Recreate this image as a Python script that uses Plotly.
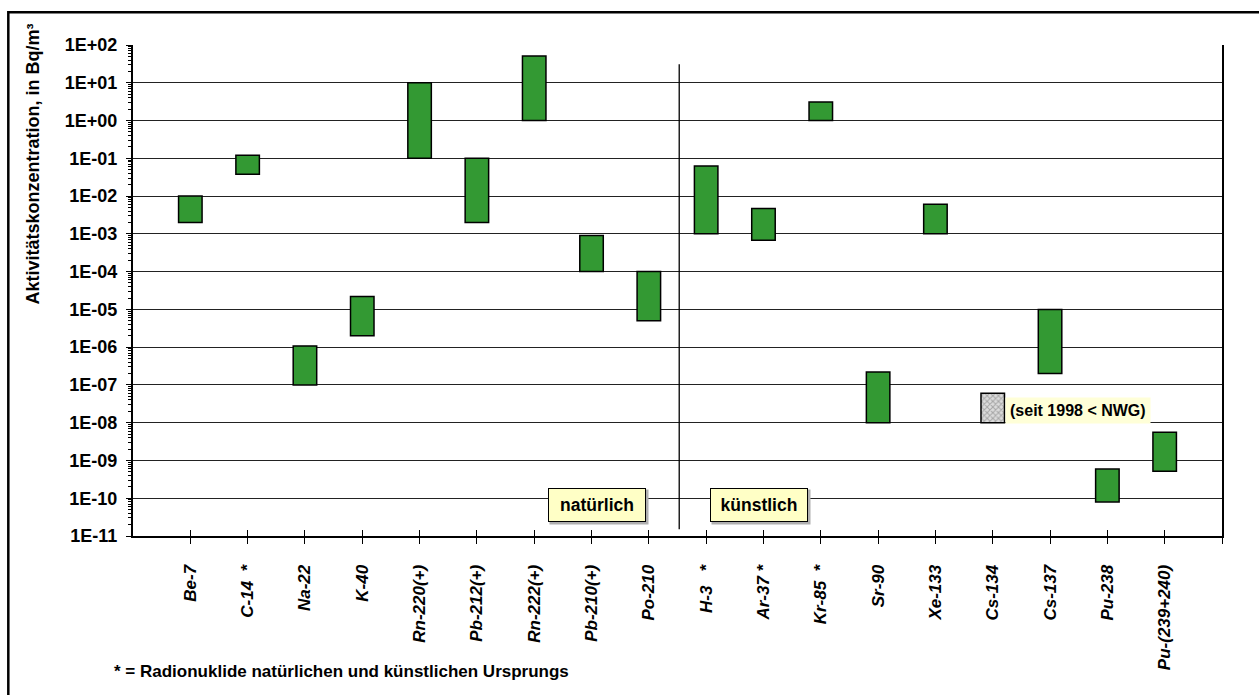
import plotly.graph_objects as go

# ---------------- data ----------------
nuclides = ["Be-7", "C-14\u00a0\u00a0*", "Na-22", "K-40", "Rn-220(+)", "Pb-212(+)", "Rn-222(+)",
            "Pb-210(+)", "Po-210", "H-3\u00a0\u00a0\u00a0*", "Ar-37\u00a0*", "Kr-85\u00a0\u00a0*",
            "Sr-90", "Xe-133", "Cs-134", "Cs-137", "Pu-238", "Pu-(239+240)"]
low = [2.0e-3, 3.8e-2, 1.0e-7, 2.0e-6, 1.0e-1, 2.0e-3, 1.0e0, 1.0e-4, 5.0e-6,
       1.0e-3, 6.8e-4, 1.0e0, 1.0e-8, 1.0e-3, 1.0e-8, 2.0e-7, 8.0e-11, 5.2e-10]
high = [1.0e-2, 1.2e-1, 1.08e-6, 2.2e-5, 1.0e1, 1.0e-1, 5.1e1, 9.0e-4, 1.0e-4,
        6.3e-2, 4.7e-3, 3.1e0, 2.2e-7, 6.1e-3, 6.0e-8, 1.0e-5, 5.9e-10, 5.6e-9]
below_limit = ["Cs-134"]          # shown hatched: since 1998 below detection limit
ytick_vals = [1e-11, 1e-10, 1e-9, 1e-8, 1e-7, 1e-6, 1e-5, 1e-4, 1e-3, 1e-2, 1e-1, 1e0, 1e1, 1e2]
ytick_text = ["1E-11", "1E-10", "1E-09", "1E-08", "1E-07", "1E-06", "1E-05", "1E-04",
              "1E-03", "1E-02", "1E-01", "1E+00", "1E+01", "1E+02"]
minor_mult = [2, 3, 4, 5, 6, 7, 8, 9]
split_after = "Po-210"             # natural | artificial separator

FONT = "Liberation Sans, Arial, sans-serif"
GREEN = "#339933"

pos = list(range(len(nuclides)))
norm_idx = [i for i, n in enumerate(nuclides) if n not in below_limit]
lim_idx = [i for i, n in enumerate(nuclides) if n in below_limit]
minor_vals = [m * d for d in ytick_vals[:-1] for m in minor_mult]

fig = go.Figure()
fig.add_trace(go.Bar(
    x=[pos[i] for i in norm_idx],
    base=[low[i] for i in norm_idx],
    y=[high[i] - low[i] for i in norm_idx],
    width=0.41,
    marker=dict(color=GREEN, line=dict(color="black", width=1.5)),
    showlegend=False, hoverinfo="skip"))
fig.add_trace(go.Bar(
    x=[pos[i] for i in lim_idx],
    base=[low[i] for i in lim_idx],
    y=[high[i] - low[i] for i in lim_idx],
    width=0.41,
    marker=dict(color="#c8c8c8", line=dict(color="black", width=1.5),
                pattern=dict(shape="x", size=4, solidity=0.45, fgcolor="#6e6e6e", bgcolor="#dcdcdc")),
    showlegend=False, hoverinfo="skip"))
# helper trace for the second (inside-tick) x axis
fig.add_trace(go.Scatter(x=pos, y=low, xaxis="x2", mode="markers",
                         marker=dict(opacity=0), showlegend=False, hoverinfo="skip"))

n = len(nuclides)
fig.update_layout(
    width=1259, height=695,
    margin=dict(l=133, r=37, t=45, b=159),
    paper_bgcolor="white", plot_bgcolor="white",
    font=dict(family=FONT, color="black"),
    barmode="overlay",
    xaxis=dict(range=[-1, n], tickmode="array", tickvals=pos + [n], ticktext=nuclides + [""],
               tickangle=-90, ticks="outside", ticklen=6, tickwidth=1.3, tickcolor="black",
               tickfont=dict(family=FONT, size=17, weight="bold", style="italic"),
               ticklabelstandoff=14,
               showgrid=False, zeroline=False, showline=True, linewidth=2, linecolor="black"),
    xaxis2=dict(range=[-1, n], overlaying="x", anchor="y", side="bottom",
                tickmode="array", tickvals=pos + [n], ticks="inside", ticklen=6, tickwidth=1.3,
                tickcolor="black", showticklabels=False, showgrid=False, zeroline=False, showline=False),
    yaxis=dict(type="log", range=[-11, 2], tickmode="array", tickvals=ytick_vals, ticktext=ytick_text,
               ticks="outside", ticklen=5, tickwidth=1.3, tickcolor="black",
               tickfont=dict(family=FONT, size=18, weight="bold"),
               ticklabelstandoff=5,
               minor=dict(tickmode="array", tickvals=minor_vals, ticks="outside", ticklen=3,
                          tickcolor="black", tickwidth=1, showgrid=False),
               showgrid=True, gridcolor="#222222", gridwidth=1,
               showline=True, linewidth=2, linecolor="black", mirror=True, zeroline=False),
)

split_x = nuclides.index(split_after) + 0.53
fig.add_shape(type="line", xref="x", yref="paper", x0=split_x, x1=split_x, y0=0.014, y1=0.961,
              line=dict(color="black", width=1.3))
# outer frame
fig.add_shape(type="rect", xref="paper", yref="paper", x0=-0.1145, x1=1.2, y0=-0.6, y1=1.0665,
              line=dict(color="black", width=2.5), layer="below")

box_font = dict(family=FONT, size=17.5, weight="bold", color="black")
for txt, xc in [("natürlich", 7.1), ("künstlich", 9.92)]:
    # soft shadow
    fig.add_annotation(x=xc, y=0.063, xref="x", yref="paper", xanchor="center", yanchor="middle",
                       text=txt, showarrow=False, xshift=2, yshift=-2,
                       font=dict(family=FONT, size=17.5, weight="bold", color="rgba(0,0,0,0)"),
                       bgcolor="#b0b0b0", borderpad=7, width=84)
    fig.add_annotation(x=xc, y=0.063, xref="x", yref="paper", xanchor="center", yanchor="middle",
                       text=txt, showarrow=False,
                       font=box_font, bgcolor="#FFFFC6", bordercolor="black", borderwidth=1,
                       borderpad=6, width=84)

fig.add_annotation(x=nuclides.index("Cs-134") + 0.22, y=0.2565, xref="x", yref="paper",
                   xanchor="left", yanchor="middle", text="(seit 1998 < NWG)", showarrow=False,
                   font=dict(family=FONT, size=16, weight="bold", color="black"),
                   bgcolor="#FFFFD8", borderpad=4)

fig.add_annotation(x=0, y=1.047, xref="paper", yref="paper", xshift=-100, xanchor="center",
                   yanchor="top", textangle=-90, text="Aktivitätskonzentration, in Bq/m³",
                   showarrow=False, font=dict(family=FONT, size=18, weight="bold", color="black"))
fig.add_annotation(x=0, y=-0.275, xref="paper", yref="paper", xshift=-21, xanchor="left",
                   yanchor="middle", text="* = Radionuklide natürlichen und künstlichen Ursprungs",
                   showarrow=False, font=dict(family=FONT, size=17, weight="bold", color="black"))

fig.write_html("out.html")
